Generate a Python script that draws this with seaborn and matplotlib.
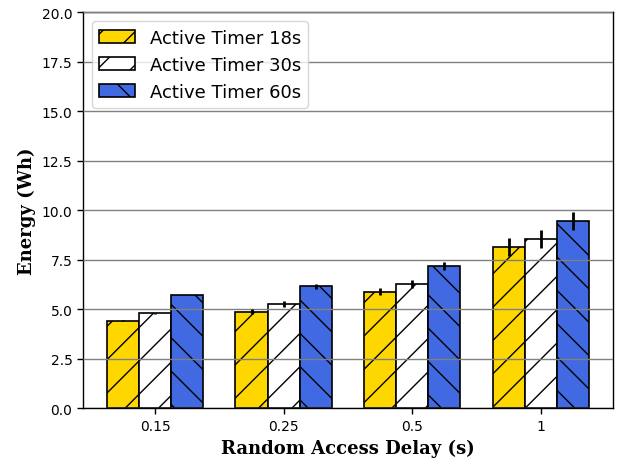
import matplotlib
matplotlib.use("Agg")
import matplotlib.pyplot as plt
import seaborn as sns
import pandas as pd
import numpy as np

delays = ["0.15", "0.25", "0.5", "1"]
timers = ["Active Timer 18s", "Active Timer 30s", "Active Timer 60s"]
energy_18 = [4.43, 4.88, 5.89, 8.17]
energy_30 = [4.81, 5.27, 6.28, 8.56]
energy_60 = [5.73, 6.16, 7.17, 9.45]
err_18 = [0.03, 0.13, 0.18, 0.45]
err_30 = [0.02, 0.14, 0.20, 0.45]
err_60 = [0.02, 0.14, 0.20, 0.45]

colors = ["#FFD700", "#FFFFFF", "#4169E1"]
hatches = ["/", "/", "\\"]

df = pd.DataFrame({
    "delay": delays * 3,
    "timer": [t for t in timers for _ in delays],
    "energy": energy_18 + energy_30 + energy_60,
})
errs = [err_18, err_30, err_60]

sns.set_style("white")
plt.rcParams.update({
    "hatch.linewidth": 1.0,
    "text.color": "black",
    "axes.labelcolor": "black",
    "xtick.color": "black",
    "ytick.color": "black",
})

fig = plt.figure(figsize=(6.18, 4.6), dpi=100)
ax = fig.add_axes([0.134, 0.110, 0.858, 0.861])

sns.barplot(data=df, x="delay", y="energy", hue="timer", order=delays,
            hue_order=timers, palette=colors, width=0.75, errorbar=None,
            edgecolor="black", linewidth=1.2, saturation=1, legend=False,
            ax=ax)

# hatch each bar group and attach its error bars
bar_groups = list(ax.containers)
handles = []
for i, cont in enumerate(bar_groups):
    xs, ys = [], []
    for p in cont.patches:
        p.set_hatch(hatches[i])
        p.set_edgecolor("black")
        xs.append(p.get_x() + p.get_width() / 2)
        ys.append(p.get_height())
    handles.append(cont.patches[0])
    ax.errorbar(xs, ys, yerr=errs[i], fmt="none", ecolor="black",
                elinewidth=2, capsize=0, zorder=5)

ax.set_ylim(0, 20)
ax.set_yticks(np.arange(0, 20.01, 2.5))
ax.set_xlim(-0.5625, 3.5625)
ax.yaxis.grid(True, color="gray", linewidth=1)
ax.set_axisbelow(False)
for s in ax.spines.values():
    s.set_visible(True)
    s.set_color("black")
    s.set_linewidth(1)
ax.tick_params(axis="both", which="major", length=4, width=1, labelsize=10,
               bottom=True, left=True, color="black", labelcolor="black")

ax.set_xlabel("Random Access Delay (s)", fontfamily="DejaVu Serif",
              fontweight="bold", fontsize=13, color="black")
ax.set_ylabel("Energy (Wh)", fontfamily="DejaVu Serif",
              fontweight="bold", fontsize=13, color="black")

ax.legend(handles, timers, loc="upper left", fontsize=13, frameon=True)

fig.savefig("out.png", dpi=100)
